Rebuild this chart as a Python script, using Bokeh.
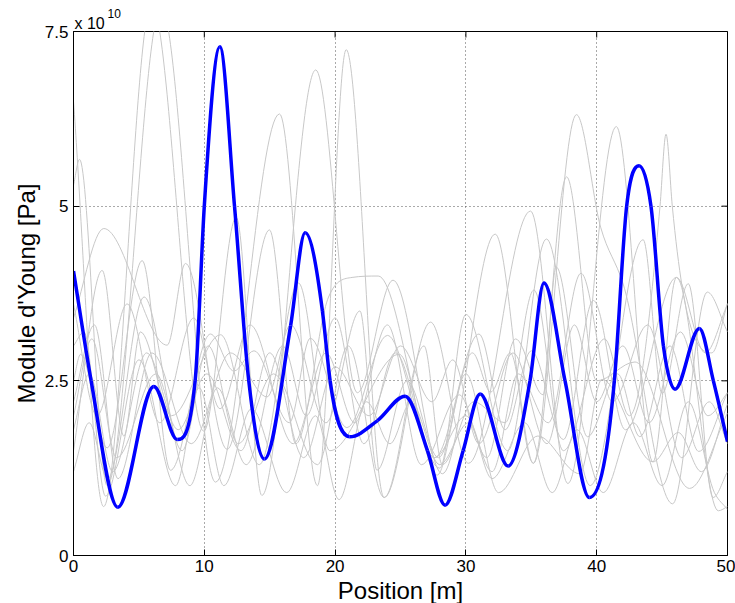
import math
from bokeh.plotting import figure
from bokeh.models import FixedTicker, Range1d, Label, Title
from bokeh.embed import file_html
from bokeh.resources import INLINE

# x: position [m]; y: Young's modulus in units of 1e10 Pa
x_ticks = [0, 10, 20, 30, 40, 50]
y_ticks = [0, 2.5, 5, 7.5]
y_tick_labels = ["0", "2.5", "5", "7.5"]

blue_x = [0, 1.35, 3.39, 6.14, 7.93, 9.3, 10.0, 11.19, 12.31, 13.4, 14.6, 16.6, 17.71, 19.03, 19.62, 21.12,
          23.24, 25.35, 27.06, 28.41, 29.79, 31.09, 33.23, 34.9, 35.97, 37.58, 39.44, 41.35, 42.29, 43.24,
          44.15, 45.1, 45.99, 47.85, 48.92, 50]
blue_y = [4.07, 2.5, 0.69, 2.42, 1.66, 2.5, 5.0, 7.28, 5.0, 2.5, 1.38, 3.29, 4.62, 3.5, 2.5, 1.70,
          1.93, 2.28, 1.5, 0.72, 1.5, 2.31, 1.28, 2.5, 3.90, 2.5, 0.83, 2.5, 5.0, 5.58,
          5.0, 3.0, 2.38, 3.25, 2.5, 1.63]

g1_x = [0, 2.3, 5.97, 9.96, 12.44, 14.4, 18.52, 21.7, 24.43, 28.2, 32.24, 35.16, 38.45, 40.3, 42.0, 45.8, 48.46, 50]
g1_y = [6.5, 0.70, 7.9, 1.78, 4.84, 0.86, 6.95, 2.33, 3.94, 1.17, 4.60, 1.32, 6.31, 4.7, 3.9, 0.74, 3.77, 3.2]
g2_x = [0, 0.46, 2.57, 6.7, 10.86, 15.75, 18.65, 20.85, 23.75, 27.3, 30.2, 34.94, 37.8, 41.5, 44.3, 46.1, 49.3, 50]
g2_y = [5.3, 5.67, 1.0, 7.85, 1.05, 6.32, 1.0, 7.24, 0.83, 3.34, 1.32, 4.93, 1.03, 6.14, 1.34, 3.98, 0.64, 0.7]
g3_x = [0, 2.32, 7.16, 8.56, 11.75, 14.98, 17.0, 19.5, 21.3, 23.3, 28.0, 30.0, 33.2, 36.16, 39.5, 43.55, 45.0, 47.0, 48.9, 50]
g3_y = [3.4, 4.68, 3.01, 4.18, 1.52, 4.66, 1.6, 3.7, 3.98, 4.0, 1.25, 3.45, 1.5, 4.53, 1.0, 4.52, 2.32, 3.89, 0.83, 1.2]
g4_x = [0, 0.54, 2.57, 5.25, 7.42, 10.47, 12.26, 13.8, 16.5, 18.1, 20.9, 24.0, 27.6, 31.0, 33.0, 35.0, 37.45, 39.75, 42.2, 46.1, 48.3, 50]
g4_y = [2.5, 2.88, 1.54, 4.22, 1.22, 3.17, 2.64, 2.93, 1.9, 3.11, 1.83, 3.15, 1.4, 3.17, 1.8, 2.93, 1.66, 3.65, 1.8, 3.98, 2.9, 3.6]
g5_x = [0, 2.19, 3.85, 5.12, 7.5, 11.24, 14.2, 17.2, 19.6, 24.9, 27.8, 30.0, 32.5, 35.5, 38.7, 40.4, 44.3, 46.24, 48.0, 50]
g5_y = [1.5, 4.08, 1.71, 3.20, 2.0, 3.16, 1.3, 3.9, 1.5, 2.88, 1.15, 2.6, 0.9, 1.71, 1.17, 2.52, 1.34, 1.76, 1.2, 2.17]
g6_x = [0, 1.6, 3.4, 6.0, 9.0, 12.0, 14.8, 16.6, 19.3, 21.9, 23.2, 25.5, 27.9, 30.5, 31.9, 33.4, 35.16, 37.7, 40.0, 42.93, 47.1, 50]
g6_y = [2.2, 3.3, 1.1, 2.9, 1.6, 2.90, 2.27, 3.3, 1.9, 3.5, 1.22, 2.5, 1.4, 2.9, 2.34, 2.9, 1.32, 5.42, 2.5, 2.77, 0.96, 2.04]
g7_x = [0, 1.2, 2.6, 5.4, 8.3, 10.3, 12.6, 15.3, 18.65, 21.0, 23.75, 26.8, 28.2, 30.6, 33.0, 35.2, 37.45, 40.6, 42.5, 44.84, 45.3, 45.78, 48.8, 50]
g7_y = [1.2, 1.9, 1.1, 3.7, 1.5, 3.0, 1.6, 2.6, 1.3, 3.0, 0.83, 3.0, 1.3, 2.2, 1.9, 3.8, 1.5, 3.1, 2.0, 5.0, 6.03, 5.0, 2.9, 3.61]
g8_x = [0, 1.8, 4.1, 6.6, 9.2, 11.2, 13.5, 16.8, 19.3, 21.5, 24.0, 26.6, 29.5, 31.6, 33.8, 35.9, 36.9, 39.3, 41.6, 43.3, 45.6, 47.8, 50]
g8_y = [3.6, 2.0, 3.6, 1.9, 3.4, 2.1, 3.3, 1.6, 2.9, 1.9, 3.3, 1.3, 2.3, 1.4, 3.1, 2.3, 4.13, 1.7, 2.6, 1.7, 3.0, 1.49, 2.33]
g9_x = [0, 1.4, 3.3, 6.3, 8.9, 11.0, 13.2, 16.0, 17.8, 20.0, 22.2, 24.6, 27.6, 30.0, 32.0, 34.0, 36.3, 38.8, 41.2, 43.9, 46.5, 48.6, 50]
g9_y = [2.0, 3.1, 1.4, 2.6, 1.0, 2.4, 1.3, 3.0, 2.0, 3.4, 1.6, 2.9, 1.4, 2.0, 1.2, 2.6, 1.9, 4.04, 2.2, 3.3, 1.4, 2.2, 1.6]
g10_x = [0, 0.8, 2.45, 5.0, 7.8, 9.6, 11.5, 13.6, 16.3, 18.5, 20.3, 22.4, 24.2, 25.8, 28.0, 30.2, 32.0, 34.5, 36.6, 38.5, 40.5, 42.8, 45.0, 47.0, 49.0, 50]
g10_y = [3.0, 3.2, 0.85, 2.8, 1.0, 2.4, 1.0, 2.1, 0.9, 2.0, 0.8, 2.2, 1.6, 2.2, 1.3, 1.9, 1.1, 1.9, 0.9, 1.8, 0.9, 1.9, 1.0, 2.2, 0.9, 0.66]
g11_x = [0, 1.2, 3.0, 5.6, 8.0, 10.2, 12.8, 15.0, 17.6, 20.0, 22.6, 25.0, 27.4, 29.0, 31.0, 33.6, 36.2, 38.3, 40.0, 42.0, 44.0, 46.4, 48.5, 50]
g11_y = [1.8, 2.6, 1.2, 2.9, 1.8, 2.6, 1.5, 2.9, 1.4, 2.7, 2.0, 3.0, 2.2, 2.8, 1.6, 2.9, 1.6, 3.3, 2.2, 3.0, 1.9, 3.2, 2.0, 2.33]

gray_series = [(g1_x, g1_y), (g2_x, g2_y), (g3_x, g3_y), (g4_x, g4_y), (g5_x, g5_y), (g6_x, g6_y),
               (g7_x, g7_y), (g8_x, g8_y), (g9_x, g9_y), (g10_x, g10_y), (g11_x, g11_y)]


def smooth_segments(xs, ys):
    """Shape-preserving cubic Hermite through the read points, expressed as Bezier segments."""
    n = len(xs)
    h = [xs[i + 1] - xs[i] for i in range(n - 1)]
    s = [(ys[i + 1] - ys[i]) / h[i] for i in range(n - 1)]
    m = [0.0] * n
    m[0] = s[0]
    m[-1] = s[-1]
    for i in range(1, n - 1):
        if s[i - 1] * s[i] <= 0:
            m[i] = 0.0
        else:
            h0, h1 = h[i - 1], h[i]
            mi = (s[i - 1] * h1 + s[i] * h0) / (h0 + h1)
            lim = 3 * min(abs(s[i - 1]), abs(s[i]))
            m[i] = math.copysign(min(abs(mi), lim), mi)
    seg = dict(x0=[], y0=[], x1=[], y1=[], cx0=[], cy0=[], cx1=[], cy1=[])
    for i in range(n - 1):
        d = h[i] / 3.0
        seg["x0"].append(xs[i]); seg["y0"].append(ys[i])
        seg["x1"].append(xs[i + 1]); seg["y1"].append(ys[i + 1])
        seg["cx0"].append(xs[i] + d); seg["cy0"].append(ys[i] + m[i] * d)
        seg["cx1"].append(xs[i + 1] - d); seg["cy1"].append(ys[i + 1] - m[i + 1] * d)
    return seg


FONT = "Liberation Sans"
W, H = 735, 603
BL, BR, BT, BB = 73, 8, 31, 47

p = figure(width=W, height=H, output_backend="svg", toolbar_location=None,
           x_range=Range1d(0, 50), y_range=Range1d(0, 7.5),
           min_border_left=BL, min_border_right=BR, min_border_top=BT, min_border_bottom=BB)
p.outline_line_color = "black"
p.outline_line_width = 1

for gx, gy in gray_series:
    seg = smooth_segments(gx, gy)
    p.bezier(x0=seg["x0"], y0=seg["y0"], x1=seg["x1"], y1=seg["y1"],
             cx0=seg["cx0"], cy0=seg["cy0"], cx1=seg["cx1"], cy1=seg["cy1"],
             line_color="#c8c8c8", line_width=1)

seg = smooth_segments(blue_x, blue_y)
p.bezier(x0=seg["x0"], y0=seg["y0"], x1=seg["x1"], y1=seg["y1"],
         cx0=seg["cx0"], cy0=seg["cy0"], cx1=seg["cx1"], cy1=seg["cy1"],
         line_color="#0000ff", line_width=3.5)

# grid
p.xgrid.ticker = FixedTicker(ticks=x_ticks[1:-1])
p.ygrid.ticker = FixedTicker(ticks=y_ticks[1:-1])
for g in (p.xgrid[0], p.ygrid[0]):
    g.grid_line_color = "#555555"
    g.grid_line_dash = "1 3"
    g.grid_line_width = 1

# main axes
xa = p.xaxis[0]
ya = p.yaxis[0]
xa.ticker = FixedTicker(ticks=x_ticks)
ya.ticker = FixedTicker(ticks=y_ticks)
ya.major_label_overrides = {t: l for t, l in zip(y_ticks, y_tick_labels)}
for ax in (xa, ya):
    ax.major_tick_in = 6
    ax.major_tick_out = 0
    ax.minor_tick_in = 0
    ax.minor_tick_out = 0
    ax.axis_line_color = "black"
    ax.major_tick_line_color = "black"
    ax.major_label_text_font = FONT
    ax.major_label_text_font_size = "17px"
    ax.major_label_text_color = "black"
xa.major_label_standoff = 4
ya.major_label_standoff = 5

# axis titles
p.add_layout(Title(text="Position [m]", align="center", standoff=0,
                   text_font=FONT, text_font_size="24px", text_font_style="normal",
                   text_color="black"), "below")
p.add_layout(Title(text="Module d'Young [Pa]", align="center", standoff=4,
                   text_font=FONT, text_font_size="24px", text_font_style="normal",
                   text_color="black"), "left")

# mirrored ticks on the top and right edges (half of each dash is clipped by the frame)
p.dash(x=x_ticks, y=[y_ticks[-1]] * len(x_ticks), angle=math.pi / 2, size=12,
       line_color="black", line_width=1)
p.dash(x=[x_ticks[-1]] * len(y_ticks), y=y_ticks, size=12, line_color="black", line_width=1)

# exponent above the y axis, in the panel above the frame
p.add_layout(Label(x=1, y=8, x_units="screen", y_units="screen", text="x 10",
                   text_baseline="alphabetic", text_font=FONT, text_font_size="16px",
                   text_color="black"), "above")
p.add_layout(Label(x=34, y=1, x_units="screen", y_units="screen", text="10",
                   text_baseline="alphabetic", text_font=FONT, text_font_size="12px",
                   text_color="black"), "above")

open("out.html", "w").write(file_html(p, INLINE))
